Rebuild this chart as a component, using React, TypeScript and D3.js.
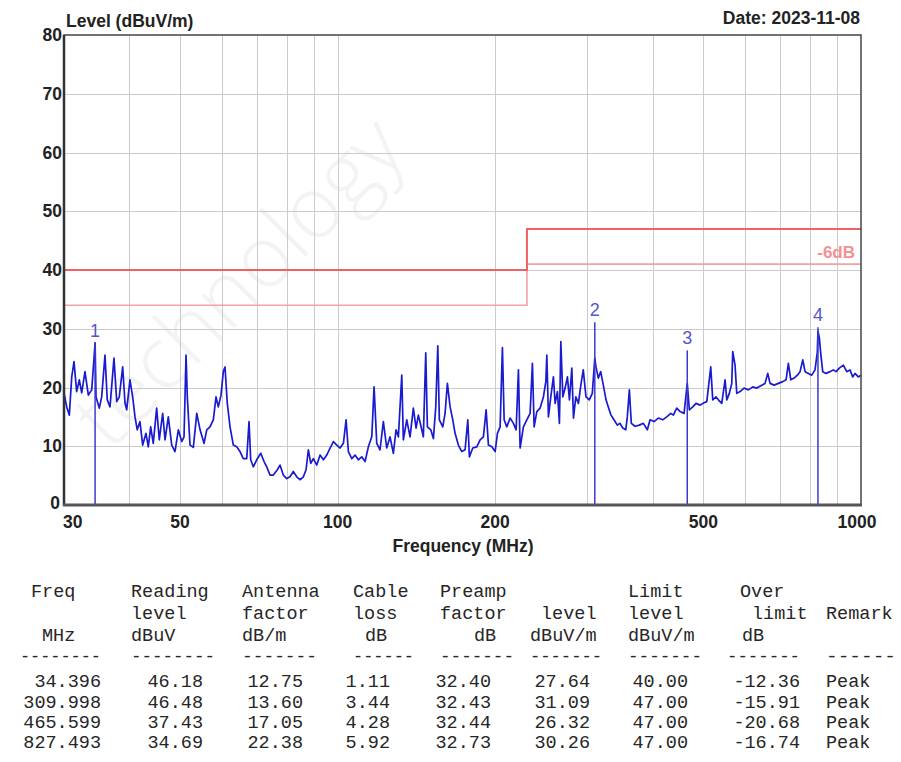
import React from "react";
import { scaleLog, scaleLinear, line } from "d3";

// peak sweep, MHz / dBuV/m
const traceFreq = [
  30.0, 30.36, 30.71, 31.04, 31.35, 31.72, 32.09, 32.43, 32.9, 33.39,
  33.89, 34.4, 34.54, 35.04, 35.41, 35.93, 36.29, 36.73, 37.38, 37.83,
  38.26, 38.84, 39.23, 39.53, 40.1, 40.58, 41.0, 41.41, 41.9, 42.41,
  43.03, 43.47, 43.93, 44.43, 45.1, 45.62, 46.31, 46.79, 47.47, 48.19,
  48.89, 49.61, 50.36, 50.87, 51.32, 51.61, 52.23, 53.0, 53.8, 54.59,
  55.55, 56.22, 57.03, 57.87, 58.56, 59.15, 59.86, 60.47, 60.92, 61.54,
  62.28, 63.19, 64.14, 65.08, 66.03, 67.03, 67.71, 68.21, 69.0, 70.04,
  71.3, 72.34, 73.19, 74.26, 75.35, 76.7, 77.6, 78.74, 79.93, 81.1,
  82.28, 83.53, 84.75, 86.0, 87.02, 87.91, 88.84, 89.87, 91.23, 92.56,
  93.92, 95.33, 96.73, 98.15, 99.63, 101.08, 102.56, 103.78, 104.83, 106.42,
  107.96, 109.54, 111.2, 112.82, 114.47, 116.2, 117.38, 118.77, 120.5, 122.27,
  124.11, 125.93, 127.77, 129.31, 130.63, 132.6, 133.52, 135.53, 137.51, 139.52,
  141.2, 142.64, 144.8, 145.8, 147.35, 148.41, 150.65, 152.39, 153.98, 155.37,
  156.44, 158.8, 160.42, 162.06, 164.01, 165.95, 167.64, 170.09, 172.66, 175.18,
  177.29, 178.52, 181.22, 184.46, 187.16, 189.89, 192.18, 194.14, 197.07, 199.95,
  201.99, 204.38, 206.46, 208.03, 210.48, 213.56, 216.69, 219.3, 221.53, 223.17,
  226.43, 229.85, 233.21, 235.59, 237.38, 240.19, 243.7, 247.27, 249.9, 251.0,
  252.79, 255.43, 258.38, 260.35, 263.0, 265.32, 266.97, 269.32, 272.06, 274.83,
  277.25, 280.2, 282.21, 285.15, 288.45, 291.53, 294.65, 298.21, 302.57, 306.63,
  310.0, 311.62, 314.79, 318.14, 321.83, 325.7, 328.94, 332.91, 337.32, 342.25,
  346.38, 350.55, 355.2, 357.67, 360.89, 364.03, 370.05, 377.11, 383.79, 390.64,
  395.27, 402.33, 410.02, 418.02, 425.4, 433.02, 437.94, 444.54, 451.14, 459.12,
  465.6, 469.88, 476.98, 483.97, 492.6, 501.32, 507.36, 516.33, 520.87, 528.5,
  533.87, 541.93, 549.88, 554.04, 560.32, 566.29, 568.78, 574.57, 578.92, 587.38,
  597.76, 609.16, 621.07, 632.16, 646.14, 655.69, 663.45, 670.19, 682.19, 695.21,
  708.79, 719.15, 726.47, 734.21, 744.97, 755.89, 764.78, 773.99, 781.88, 793.32,
  805.3, 816.8, 825.13, 827.49, 832.44, 837.63, 844.98, 857.29, 872.63, 885.36,
  895.85, 909.05, 925.33, 939.26, 952.82, 964.1, 973.93, 988.17, 1000,
];
const traceLevel = [
  19.1, 16.7, 15.3, 21.8, 24.4, 19.3, 21.3, 19.1, 22.7, 18.7,
  19.6, 27.6, 18.4, 16.5, 18.4, 25.5, 17.9, 16.7, 25.0, 17.6,
  18.4, 23.5, 17.4, 16.2, 21.3, 18.4, 15.0, 12.8, 14.2, 10.2,
  12.2, 9.9, 13.3, 10.5, 16.5, 11.1, 15.6, 11.1, 15.0, 10.2,
  9.1, 12.8, 10.8, 11.6, 25.5, 18.4, 10.2, 9.8, 15.6, 12.8,
  10.5, 12.8, 13.3, 14.5, 18.4, 16.7, 18.7, 22.7, 23.5, 17.3,
  13.3, 10.2, 9.9, 9.1, 7.9, 7.9, 14.2, 7.7, 6.5, 7.7,
  8.8, 7.4, 6.5, 5.1, 5.1, 6.0, 6.8, 5.1, 4.5, 4.8,
  5.7, 4.8, 4.3, 4.8, 6.0, 9.4, 7.1, 7.9, 6.8, 8.5,
  7.7, 8.5, 9.7, 10.8, 10.2, 9.7, 10.5, 14.5, 9.1, 7.9,
  8.5, 7.7, 8.2, 7.4, 9.9, 11.6, 20.1, 10.5, 9.4, 14.2,
  9.7, 11.6, 8.8, 12.8, 11.6, 22.1, 11.1, 14.5, 11.6, 16.5,
  13.1, 15.3, 12.8, 11.6, 25.9, 13.3, 12.8, 11.3, 16.7, 27.1,
  14.5, 13.3, 15.6, 20.7, 16.7, 14.5, 12.2, 10.2, 9.1, 9.4,
  14.5, 8.2, 9.7, 9.9, 11.1, 11.6, 16.2, 10.2, 9.9, 9.1,
  12.2, 13.3, 26.8, 14.5, 13.3, 14.8, 13.9, 12.8, 23.0, 9.7,
  13.3, 14.5, 15.6, 24.1, 13.3, 15.9, 16.5, 18.4, 21.0, 25.5,
  15.0, 18.4, 21.8, 17.3, 19.3, 13.9, 27.8, 18.4, 19.9, 21.8,
  17.9, 23.3, 14.8, 18.4, 17.3, 20.4, 23.0, 18.4, 17.9, 19.0,
  25.0, 23.5, 21.6, 22.7, 20.4, 17.9, 16.7, 15.3, 14.5, 13.6,
  13.9, 13.1, 12.8, 15.0, 19.6, 13.9, 13.4, 13.6, 13.9, 12.8,
  14.5, 14.2, 14.8, 14.5, 15.0, 15.6, 15.3, 16.5, 15.9, 15.6,
  20.7, 16.2, 16.7, 17.3, 17.0, 17.4, 17.6, 23.5, 17.9, 18.4,
  17.9, 17.3, 21.3, 17.9, 19.0, 20.7, 26.1, 23.8, 19.0, 19.3,
  19.9, 19.6, 20.1, 19.9, 20.4, 20.7, 22.4, 20.7, 20.4, 20.7,
  21.0, 21.3, 24.1, 21.3, 21.6, 22.1, 22.7, 24.7, 22.7, 22.4,
  22.1, 23.0, 26.0, 29.6, 28.5, 25.8, 22.7, 22.4, 22.7, 23.0,
  22.7, 23.3, 23.8, 22.7, 23.0, 21.8, 22.4, 21.8, 22.1,
];

const markerNo = ["1", "2", "3", "4"];
const markerFreq = [34.396, 309.998, 465.599, 827.493];
const markerLevel = [27.64, 31.09, 26.32, 30.26];

const limitFreq = [30, 230, 230, 1000];
const limitLevel = [40, 40, 47, 47];
const marginLevel = [34, 34, 41, 41];

const levelTicks = [0, 10, 20, 30, 40, 50, 60, 70, 80];
const freqTicks = [30, 50, 100, 200, 500, 1000];
const freqGrid = [40, 50, 60, 70, 80, 90, 100, 200, 300, 400, 500, 600, 700, 800, 900];

// result table
const headLine1 = ["Freq", "Reading", "Antenna", "Cable", "Preamp", "", "Limit", "Over", ""];
const headLine2 = ["", "level", "factor", "loss", "factor", "level", "level", "limit", "Remark"];
const headLine3 = ["MHz", "dBuV", "dB/m", "dB", "dB", "dBuV/m", "dBuV/m", "dB", ""];
const colFreq = ["34.396", "309.998", "465.599", "827.493"];
const colReading = ["46.18", "46.48", "37.43", "34.69"];
const colAntenna = ["12.75", "13.60", "17.05", "22.38"];
const colCable = ["1.11", "3.44", "4.28", "5.92"];
const colPreamp = ["32.40", "32.43", "32.44", "32.73"];
const colLevel = ["27.64", "31.09", "26.32", "30.26"];
const colLimit = ["40.00", "47.00", "47.00", "47.00"];
const colOver = ["-12.36", "-15.91", "-20.68", "-16.74"];
const colRemark = ["Peak", "Peak", "Peak", "Peak"];

const W = 901;
const H = 762;
const plot = { left: 64, right: 861, top: 35, bottom: 505 };

const x = scaleLog().domain([30, 1000]).range([plot.left, plot.right]);
const y = scaleLinear().domain([0, 80]).range([plot.bottom, plot.top]);

const bold = { fontFamily: "'Liberation Sans', Arial, sans-serif", fontWeight: 700 };
const mono = { fontFamily: "'Liberation Mono', monospace", fontSize: 18.5, fill: "#262626" };

// table layout (px)
const head1X = [31, 131, 242, 353, 440, 0, 628, 740, 0];
const head2X = [0, 131, 242, 353, 440, 541, 628, 752, 826];
const head3X = [42, 131, 242, 365, 474, 530, 628, 742, 0];
const dashX = [20, 131, 242, 353, 440, 530, 628, 727, 826];
const dashW = [81, 84, 75, 61, 74, 72, 74, 73, 70];
const dashN = [8, 8, 7, 6, 7, 7, 7, 7, 6];
const dataRight = [101, 203, 303, 390, 491, 590, 688, 800];
const rowY = [687, 708, 728, 748];

const App = () => {
  const pts: [number, number][] = traceFreq.map((f, i) => [f, traceLevel[i]]);
  const trace = line<[number, number]>()
    .x((d) => x(d[0]))
    .y((d) => y(d[1]))(pts);
  const limPath = (lv: number[]) =>
    line<number>()
      .x((_, i) => x(limitFreq[i]))
      .y((d) => y(d))(lv);

  const dataCols = [colFreq, colReading, colAntenna, colCable, colPreamp, colLevel, colLimit, colOver];

  return (
    <div style={{ position: "absolute", left: 0, top: 0 }}>
      <svg width={W} height={H} style={{ display: "block", background: "#fff" }}>
        <rect width={W} height={H} fill="#fff" />
        {/* watermark */}
        <text
          transform="translate(110,452) rotate(-45)"
          fontFamily="'Open Sans', sans-serif"
          fontWeight={300}
          fontSize={86}
          fill="#f3f3f3"
        >
          technology
        </text>

        {/* grid */}
        <g stroke="#cbcbcb" strokeWidth={1}>
          {levelTicks.slice(1, -1).map((t) => (
            <line key={t} x1={plot.left} x2={plot.right} y1={Math.round(y(t)) + 0.5} y2={Math.round(y(t)) + 0.5} />
          ))}
          {freqGrid.map((f) => (
            <line key={f} x1={Math.round(x(f)) + 0.5} x2={Math.round(x(f)) + 0.5} y1={plot.top} y2={plot.bottom} />
          ))}
        </g>

        {/* limit lines */}
        <path d={limPath(marginLevel) || ""} fill="none" stroke="#f4a3a3" strokeWidth={1.6} />
        <path d={limPath(limitLevel) || ""} fill="none" stroke="#f06262" strokeWidth={2} />
        <text
          x={855}
          y={258}
          textAnchor="end"
          fontFamily="'Liberation Sans', Arial, sans-serif"
          fontWeight={700}
          fontSize={17}
          fill="#f29191"
        >
          -6dB
        </text>

        {/* trace */}
        <path d={trace || ""} fill="none" stroke="#1a1ad0" strokeWidth={1.7} strokeLinejoin="round" />

        {/* markers */}
        {markerNo.map((n, i) => (
          <g key={n}>
            <line
              x1={x(markerFreq[i])}
              x2={x(markerFreq[i])}
              y1={y(markerLevel[i])}
              y2={plot.bottom}
              stroke="#3a3ad0"
              strokeWidth={1.5}
            />
            <text
              x={x(markerFreq[i])}
              y={y(markerLevel[i]) - 6}
              textAnchor="middle"
              fontFamily="'Liberation Sans', Arial, sans-serif"
              fontSize={18}
              fill="#5555cc"
            >
              {n}
            </text>
          </g>
        ))}

        {/* frame */}
        <rect
          x={plot.left}
          y={plot.top}
          width={plot.right - plot.left}
          height={plot.bottom - plot.top}
          fill="none"
          stroke="#444"
          strokeWidth={1.5}
        />
        <line x1={plot.left} x2={plot.left} y1={plot.top} y2={plot.bottom + 1} stroke="#333" strokeWidth={2.5} />
        <line x1={plot.left - 1} x2={plot.right + 1} y1={plot.bottom} y2={plot.bottom} stroke="#555" strokeWidth={3} />

        {/* axis labels */}
        {levelTicks.map((t) => (
          <text key={t} x={t === 0 ? 60 : 62} y={y(t) + (t === 0 ? 4 : 6)} textAnchor="end" fontSize={17.5} fill="#222" {...bold}>
            {t}
          </text>
        ))}
        {freqTicks.map((f) => (
          <text
            key={f}
            x={f === 30 ? plot.left - 1 : f === 1000 ? plot.right - 4 : x(f)}
            y={528}
            textAnchor={f === 30 ? "start" : "middle"}
            fontSize={17.5}
            fill="#222"
            {...bold}
          >
            {f}
          </text>
        ))}
        <text x={66} y={27} fontSize={17.5} fill="#222" {...bold}>
          Level (dBuV/m)
        </text>
        <text x={860} y={24} textAnchor="end" fontSize={17.5} fill="#222" {...bold}>
          Date: 2023-11-08
        </text>
        <text x={463} y={552} textAnchor="middle" fontSize={17.5} fill="#222" {...bold}>
          Frequency (MHz)
        </text>

        {/* table */}
        <g {...mono}>
          {headLine1.map((t, i) => t && <text key={"a" + i} x={head1X[i]} y={597}>{t}</text>)}
          {headLine2.map((t, i) => t && <text key={"b" + i} x={head2X[i]} y={619}>{t}</text>)}
          {headLine3.map((t, i) => t && <text key={"c" + i} x={head3X[i]} y={641}>{t}</text>)}
          {dashX.map((dx, i) => (
            <text key={"d" + i} x={dx} y={662} textLength={dashW[i]} lengthAdjust="spacingAndGlyphs">
              {"-".repeat(dashN[i])}
            </text>
          ))}
          {dataCols.map((col, c) =>
            col.map((v, r) => (
              <text key={c + "-" + r} x={dataRight[c]} y={rowY[r]} textAnchor="end">
                {v}
              </text>
            ))
          )}
          {colRemark.map((v, r) => (
            <text key={"r" + r} x={826} y={rowY[r]}>
              {v}
            </text>
          ))}
        </g>
      </svg>
    </div>
  );
};

export default App;
